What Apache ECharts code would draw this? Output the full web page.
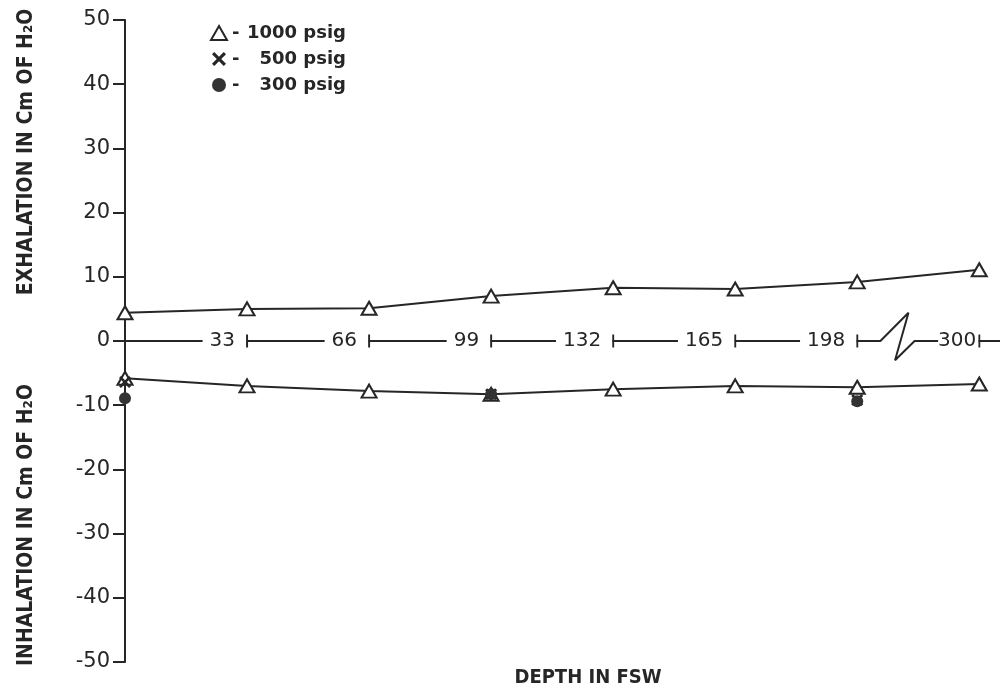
<!DOCTYPE html>
<html>
<head>
<meta charset="utf-8">
<script src="https://cdn.jsdelivr.net/npm/echarts@6/dist/echarts.min.js"></script>
<style>
  html, body { margin: 0; padding: 0; background: #ffffff; }
  #chart { width: 1008px; height: 691px; }
</style>
</head>
<body>
<div id="chart"></div>
<script>
// ---- data ----
const depthLabels = ['0', '33', '66', '99', '132', '165', '198', '300'];
const exhale1000 = [4.4, 5.0, 5.1, 7.0, 8.3, 8.1, 9.2, 11.1];
const inhale1000 = [-5.8, -7.0, -7.8, -8.3, -7.5, -7.0, -7.2, -6.7];
const depths500 = ['0', '99', '198'];
const inhale500 = [-6.4, -8.3, -9.2];
const depths300 = ['0', '99', '198'];
const inhale300 = [-8.9, -8.3, -9.4];
const yMin = -50, yMax = 50, yStep = 10;
const xMax = 7.17;
// axis break glyph between 198 and 300 (x in depth-index units, y in cm H2O)
const axisBreak = [[6.19, 0], [6.42, 4.4], [6.31, -3.0], [6.47, 0]];
const legendNames = ['1000 psig', '500 psig', '300 psig'];

const INK = '#262626';
const FONT = 'DejaVu Sans';
const FONT_C = 'DejaVu Sans Condensed';
const X_PATH = 'path://M0,1.6 L1.6,0 L5,3.4 L8.4,0 L10,1.6 L6.6,5 L10,8.4 L8.4,10 L5,6.6 L1.6,10 L0,8.4 L3.4,5 Z';

const idx = d => depthLabels.indexOf(d);
const pairs = (arr) => arr.map((v, i) => [i, v]);

const axisPathData = [[0, 0]].concat(axisBreak, [[xMax, 0]]);
const tickData = depthLabels.slice(1).map(d => [idx(d), 0]);

const chart = echarts.init(document.getElementById('chart'), null, { renderer: 'canvas' });

chart.setOption({
  animation: false,
  backgroundColor: '#ffffff',
  grid: { left: 125, right: 8, top: 20, bottom: 29, containLabel: false },
  xAxis: {
    type: 'value',
    min: 0,
    max: xMax,
    interval: 1,
    axisLine: { show: false },
    axisTick: { show: false },
    splitLine: { show: false },
    axisLabel: { show: false }
  },
  yAxis: {
    type: 'value',
    min: yMin,
    max: yMax,
    interval: yStep,
    axisLine: { show: true, onZero: false, lineStyle: { color: INK, width: 2 } },
    axisTick: { show: true, length: 12, lineStyle: { color: INK, width: 2 } },
    splitLine: { show: false },
    axisLabel: { margin: 15, fontFamily: FONT, fontSize: 21, color: INK }
  },
  legend: {
    orient: 'vertical',
    left: 205,
    top: 19,
    itemWidth: 16,
    itemHeight: 14,
    itemGap: 8,
    selectedMode: false,
    data: [
      { name: legendNames[0], icon: 'triangle', itemStyle: { color: '#ffffff', borderColor: INK, borderWidth: 2 } },
      { name: legendNames[1], icon: X_PATH, itemStyle: { color: INK, borderWidth: 0, opacity: 1 } },
      { name: legendNames[2], icon: 'circle', itemStyle: { color: '#333333', borderWidth: 0, opacity: 1 } }
    ],
    formatter: function (name) { return '{d|-}{n|' + name + '}'; },
    textStyle: {
      lineHeight: 18,
      rich: {
        d: { fontFamily: FONT, fontSize: 18, fontWeight: 'bold', color: INK, width: 16 },
        n: { fontFamily: FONT, fontSize: 18, fontWeight: 'bold', color: INK, width: 98, align: 'right' }
      }
    }
  },
  graphic: [
    {
      type: 'text', x: 27, y: 152, rotation: Math.PI / 2,
      style: { text: 'EXHALATION IN Cm OF H\u2082O', fontFamily: FONT_C, fontSize: 21, fontWeight: 'bold', fill: INK, align: 'center', verticalAlign: 'middle' }
    },
    {
      type: 'text', x: 27, y: 525, rotation: Math.PI / 2,
      style: { text: 'INHALATION IN Cm OF H\u2082O', fontFamily: FONT_C, fontSize: 21, fontWeight: 'bold', fill: INK, align: 'center', verticalAlign: 'middle' }
    },
    {
      type: 'text', x: 588, y: 678,
      style: { text: 'DEPTH IN FSW', fontFamily: FONT_C, fontSize: 20, fontWeight: 'bold', fill: INK, align: 'center', verticalAlign: 'middle' }
    }
  ],
  series: [
    {
      name: 'axis', type: 'line', data: axisPathData, z: 1,
      symbol: 'none', silent: true,
      lineStyle: { color: INK, width: 2 }
    },
    {
      name: 'ticks', type: 'scatter', data: tickData, z: 6,
      symbol: 'rect', symbolSize: [2, 13], silent: true,
      itemStyle: { color: INK, opacity: 1 },
      label: {
        show: true,
        position: 'left',
        distance: 0,
        formatter: function (p) {
          const i = p.data[0];
          if (i === depthLabels.length - 1) return '{e|' + depthLabels[i] + '}';
          return '{n|' + depthLabels[i] + '}';
        },
        rich: {
          n: { fontFamily: FONT, fontSize: 20, color: INK, backgroundColor: '#ffffff', padding: [3, 11, 3, 7] },
          e: { fontFamily: FONT, fontSize: 20, color: INK, backgroundColor: '#ffffff', padding: [3, 2, 3, 0] }
        }
      }
    },
    {
      name: '1000 psig', type: 'line', data: pairs(exhale1000), z: 3,
      symbol: 'triangle', symbolSize: [15, 13], showAllSymbol: true,
      lineStyle: { color: INK, width: 2 },
      itemStyle: { color: '#ffffff', borderColor: INK, borderWidth: 2 }
    },
    {
      name: '1000 psig', type: 'line', data: pairs(inhale1000), z: 3,
      symbol: 'triangle', symbolSize: [15, 13], showAllSymbol: true,
      lineStyle: { color: INK, width: 2 },
      itemStyle: { color: '#ffffff', borderColor: INK, borderWidth: 2 }
    },
    {
      name: '500 psig', type: 'scatter', z: 7,
      data: depths500.map((d, i) => [idx(d), inhale500[i]]),
      symbol: X_PATH, symbolSize: 12,
      itemStyle: { color: INK, opacity: 1 }
    },
    {
      name: '300 psig', type: 'scatter', z: 7,
      data: depths300.map((d, i) => [idx(d), inhale300[i]]),
      symbol: 'circle', symbolSize: 12,
      itemStyle: { color: '#333333', opacity: 1 }
    }
  ]
});
</script>
</body>
</html>
